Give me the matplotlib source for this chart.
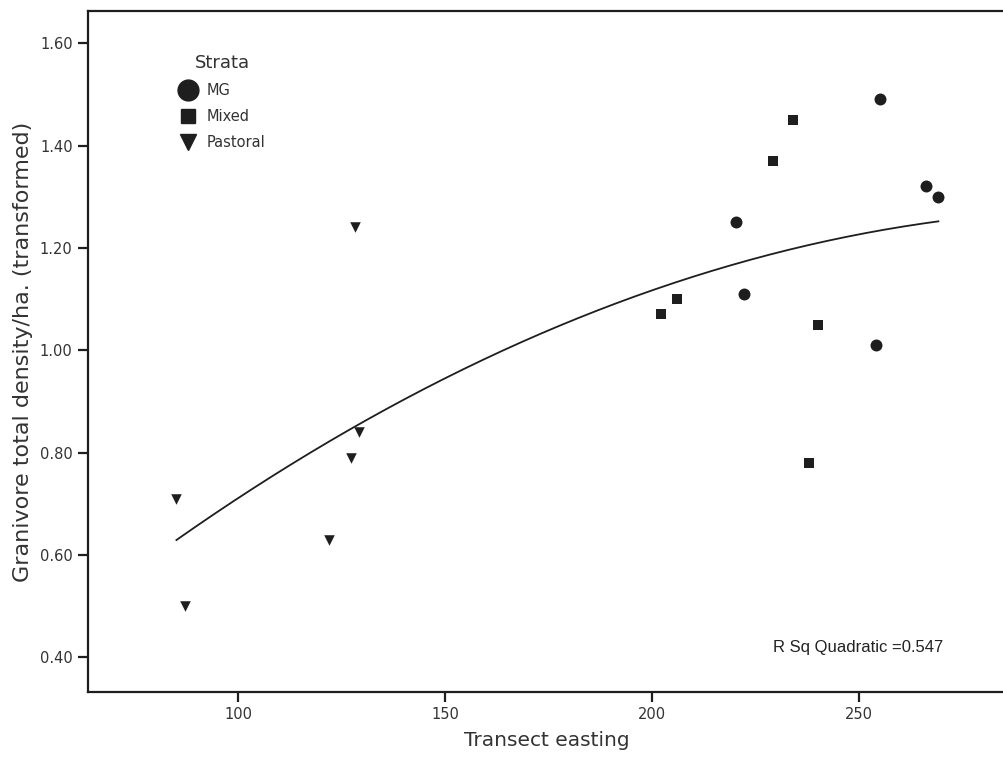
import numpy as np
import matplotlib
matplotlib.use('Agg')
import matplotlib.pyplot as plt
from matplotlib.lines import Line2D

# values
mg_x = [255.2, 266.2, 269.3, 220.3, 222.2, 254.2]
mg_y = [1.49, 1.32, 1.30, 1.25, 1.11, 1.01]
mixed_x = [234.2, 229.3, 206.1, 202.1, 240.2, 238.1]
mixed_y = [1.45, 1.37, 1.10, 1.07, 1.05, 0.78]
pastoral_x = [128.1, 129.1, 127.2, 85.0, 122.0, 87.0]
pastoral_y = [1.24, 0.84, 0.79, 0.71, 0.63, 0.50]

x_ticks = [100, 150, 200, 250]
y_ticks = [0.40, 0.60, 0.80, 1.00, 1.20, 1.40, 1.60]
r_sq = 0.547

ink = '#1e1e1e'

fig = plt.figure(figsize=(10.04, 7.62), dpi=100)
ax = fig.add_axes([0.0876, 0.0919, 0.915, 0.8937])

ax.scatter(mg_x, mg_y, marker='o', s=8.6 ** 2, color=ink, linewidths=0, zorder=3)
ax.scatter(mixed_x, mixed_y, marker='s', s=7.0 ** 2, color=ink, linewidths=0, zorder=3)
ax.scatter(pastoral_x, pastoral_y, marker='v', s=7.6 ** 2, color=ink, linewidths=0, zorder=3)

# quadratic fit over all points
all_x = np.array(mg_x + mixed_x + pastoral_x)
all_y = np.array(mg_y + mixed_y + pastoral_y)
coef = np.polyfit(all_x, all_y, 2)
xs = np.linspace(all_x.min(), all_x.max(), 200)
ax.plot(xs, np.polyval(coef, xs), color=ink, lw=1.3, zorder=2)

ax.set_xlim(63.6, 285.8)
ax.set_ylim(0.332, 1.663)
ax.set_xticks(x_ticks)
ax.set_yticks(y_ticks)
ax.set_yticklabels(['%.2f' % v for v in y_ticks])

for side in ['left', 'bottom', 'top']:
    ax.spines[side].set_linewidth(1.6)
    ax.spines[side].set_color(ink)
ax.spines['right'].set_visible(False)
ax.tick_params(direction='out', length=7, width=1.6, color=ink,
               labelsize=10.5, labelcolor='#333333', pad=4)

ax.set_xlabel('Transect easting', fontsize=14.5, color='#333333', labelpad=6)
ax.set_ylabel('Granivore total density/ha. (transformed)', fontsize=16,
              color='#333333', labelpad=5)

ax.text(0.7457, 0.0646, 'R Sq Quadratic =%.3f' % r_sq, transform=ax.transAxes,
        fontsize=12, family='Liberation Sans', color='#222222', va='center')

handles = [
    Line2D([], [], ls='none', marker='o', markersize=15, color=ink, label='MG'),
    Line2D([], [], ls='none', marker='s', markersize=10, color=ink, label='Mixed'),
    Line2D([], [], ls='none', marker='v', markersize=11, color=ink, label='Pastoral'),
]
leg = ax.legend(handles=handles, title='Strata', loc='upper left',
                bbox_to_anchor=(0.0926, 0.948), frameon=False, fontsize=10.5,
                title_fontsize=13, handlelength=1.0, handletextpad=0.78,
                labelspacing=0.76, borderpad=0)
for t in leg.get_texts():
    t.set_color('#333333')
leg.get_title().set_color('#333333')

fig.savefig('out.png', dpi=100, facecolor='white')
